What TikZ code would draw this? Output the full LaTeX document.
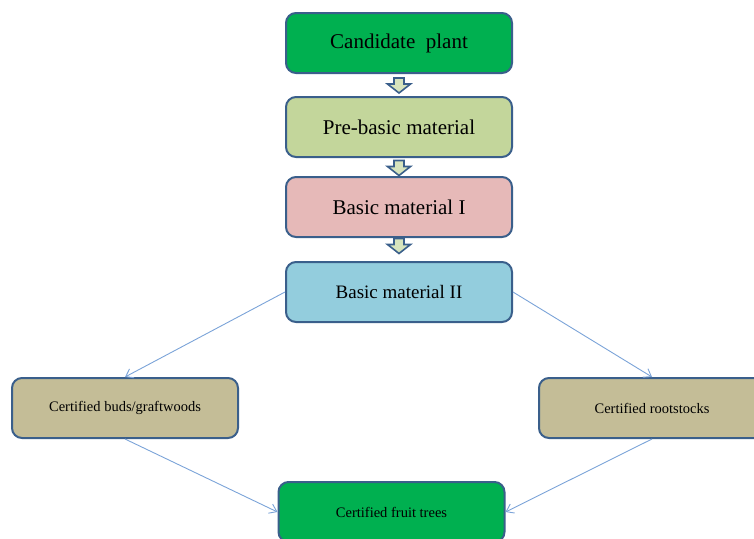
\documentclass[tikz,border=0pt]{standalone}
\usepackage{fontspec}
\setmainfont{Liberation Serif}
\usetikzlibrary{arrows.meta,calc}
\definecolor{cgreen}{HTML}{00B050}
\definecolor{cprebasic}{HTML}{C3D69B}
\definecolor{cbasicone}{HTML}{E6B9B8}
\definecolor{cbasictwo}{HTML}{93CDDD}
\definecolor{ctan}{HTML}{C4BD97}
\definecolor{cborder}{HTML}{3A5F8B}
\definecolor{cconn}{HTML}{7BA3D8}
\definecolor{carrowfill}{HTML}{D7E4BD}
\tikzset{
  box/.style={draw=cborder, line width=2pt, rounded corners=10pt, minimum width=226pt, minimum height=60pt, inner sep=0pt, align=center, text=black},
  bigtext/.style={font=\fontsize{21}{25}\selectfont},
  midtext/.style={font=\fontsize{19}{23}\selectfont},
  smalltext/.style={font=\fontsize{14.5}{17}\selectfont},
  conn/.style={draw=cconn, line width=0.9pt, -{Straight Barb[length=7pt,width=10pt,line width=0.9pt]}},
  pics/blockarrow/.style={code={
    \draw[fill=carrowfill, draw=cborder, line width=1.6pt, line join=miter]
      (-5,-7.5) -- (5,-7.5) -- (5,-1.5) -- (11.5,-1.5) -- (0,7.5) -- (-11.5,-1.5) -- (-5,-1.5) -- cycle;
  }}
}
\begin{document}
\begin{tikzpicture}[x=1pt,y=-1pt]
\useasboundingbox (0,0) rectangle (754,538);
\clip (0,0) rectangle (754,538);
\node[box, fill=cgreen, bigtext] (cand) at (399,43) {Candidate\ \ plant};
\node[box, fill=cprebasic, bigtext] (pre) at (399,127) {Pre-basic material};
\node[box, fill=cbasicone, bigtext] (b1) at (399,207) {Basic material I};
\node[box, fill=cbasictwo, midtext] (b2) at (399,292) {Basic material II};
\node[box, fill=ctan, smalltext] (buds) at (125,408) {Certified buds/graftwoods};
\node[box, fill=ctan, smalltext] (roots) at (652,408) {Certified rootstocks};
\node[box, fill=cgreen, smalltext] (fruit) at (391.5,512) {Certified fruit trees};
\path ($(cand.south)+(0,11.5)$) pic {blockarrow};
\path ($(pre.south)+(0,10)$) pic {blockarrow};
\path ($(b1.south)+(0,8)$) pic {blockarrow};
\draw[conn] (b2.west) -- (buds.north);
\draw[conn] (b2.east) -- (roots.north);
\draw[conn] (buds.south) -- (fruit.west);
\draw[conn] (roots.south) -- (fruit.east);
\end{tikzpicture}
\end{document}
